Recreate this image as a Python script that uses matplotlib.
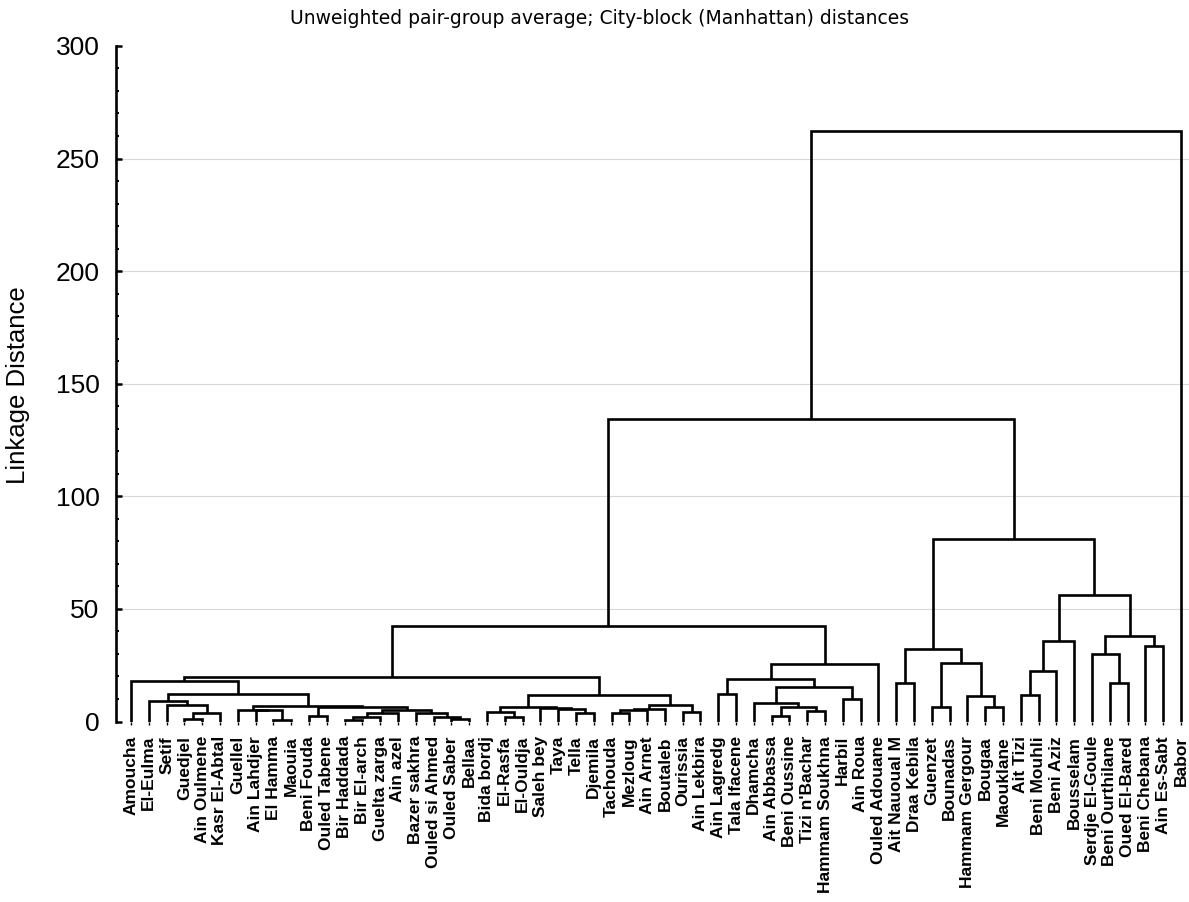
import matplotlib
matplotlib.use("Agg")
import matplotlib.pyplot as plt
from matplotlib.ticker import MultipleLocator

plt.rcParams['font.family'] = ['Liberation Sans', 'DejaVu Sans']

# ---- data -------------------------------------------------------------
leaf_labels = [
    "Amoucha", "El-Eulma", "Setif", "Guedjel", "Ain Oulmene", "Kasr El-Abtal",
    "Guellel", "Ain Lahdjer", "El Hamma", "Maouia", "Beni Fouda", "Ouled Tabene",
    "Bir Haddada", "Bir El-arch", "Guelta zarga", "Ain azel", "Bazer sakhra",
    "Ouled si Ahmed", "Ouled Saber", "Bellaa", "Bida bordj", "El-Rasfa",
    "El-Ouldja", "Saleh bey", "Taya", "Tella", "Djemila", "Tachouda", "Mezloug",
    "Ain Arnet", "Boutaleb", "Ourissia", "Ain Lekbira", "Ain Lagredg",
    "Tala Ifacene", "Dhamcha", "Ain Abbassa", "Beni Oussine", "Tizi n'Bachar",
    "Hammam Soukhna", "Harbil", "Ain Roua", "Ouled Adouane", "Ait Nauoual M",
    "Draa Kebila", "Guenzet", "Bounadas", "Hammam Gergour", "Bougaa",
    "Maouklane", "Ait Tizi", "Beni Mouhli", "Beni Aziz", "Bousselam",
    "Serdje El-Goule", "Beni Ourthilane", "Oued El-Bared", "Beni Chebana",
    "Ain Es-Sabt", "Babor",
]

# linkage: cluster k (k >= 60) is formed by merging merge_a[k-60] and merge_b[k-60]
merge_a = [3, 60, 2, 1, 8, 7, 6, 10, 12, 68, 69, 18, 17, 16, 70, 67, 66, 63, 0,
           21, 20, 25, 24, 23, 80, 27, 85, 86, 31, 87, 84, 78,
           33, 36, 38, 93, 35, 40, 96, 92, 99, 91,
           43, 45, 48, 47, 103, 102, 50, 108, 109, 55, 54, 57, 112, 110, 107,
           101, 117]
merge_b = [4, 5, 61, 62, 9, 64, 65, 11, 13, 14, 15, 19, 71, 72, 73, 74, 75, 76, 77,
           22, 79, 26, 81, 82, 83, 28, 29, 30, 32, 88, 89, 90,
           34, 37, 39, 94, 95, 41, 97, 98, 42, 100,
           44, 46, 49, 104, 105, 106, 51, 52, 53, 56, 111, 58, 113, 114, 115,
           116, 59]
merge_h = [1.0, 3.6, 7.3, 9.1, 0.7, 4.9, 5.1, 2.4, 0.7, 2.0, 3.6, 1.0, 2.1, 3.8,
           5.1, 6.4, 6.9, 12.2, 18.0,
           2.1, 4.4, 3.9, 5.6, 6.0, 6.6, 3.8, 5.1, 5.6, 4.1, 7.3, 11.8, 19.8,
           12.2, 2.6, 4.8, 6.4, 8.4, 10.0, 15.3, 18.9, 25.6, 42.4,
           17.2, 6.3, 6.3, 11.3, 25.9, 32.1, 11.8, 22.6, 35.9, 17.2, 30.0, 33.6,
           38.0, 56.2, 81.1, 134.4, 262.4]

title = "Unweighted pair-group average; City-block (Manhattan) distances"
y_label = "Linkage Distance"

# ---- figure -----------------------------------------------------------
fig = plt.figure(figsize=(11.89, 9.02), dpi=100)
ax = fig.add_axes([0.0976, 0.2001, 0.9024, 0.749])

n = len(leaf_labels)
pos = {i: float(i) for i in range(n)}
hgt = {i: 0.0 for i in range(n)}
for k, (a, b, h) in enumerate(zip(merge_a, merge_b, merge_h)):
    cid = n + k
    ax.plot([pos[a], pos[a], pos[b], pos[b]], [hgt[a], h, h, hgt[b]],
            color='black', lw=1.9, solid_joinstyle='miter', solid_capstyle='butt',
            zorder=3)
    pos[cid] = (pos[a] + pos[b]) / 2.0
    hgt[cid] = h

ax.set_xlim(-0.84, 59.45)
ax.set_ylim(0, 300)

ax.yaxis.set_major_locator(MultipleLocator(50))
ax.yaxis.set_minor_locator(MultipleLocator(10))
ax.grid(axis='y', which='major', color='#d8d8d8', lw=0.8, zorder=0)
for gl, v in zip(ax.yaxis.get_gridlines(), ax.get_yticks()):
    if v <= 0 or v >= 300:
        gl.set_visible(False)

ax.set_xticks(range(n))
ax.set_xticklabels(leaf_labels, rotation=90, fontsize=12.5, fontweight='bold')
ax.tick_params(axis='x', direction='out', length=2.5, width=1.0, pad=8)
ax.tick_params(axis='y', which='major', direction='in', length=4, width=1.8,
               labelsize=19, pad=12)
ax.tick_params(axis='y', which='minor', direction='in', length=2.5, width=1.5)

for s in ['top', 'right', 'bottom']:
    ax.spines[s].set_visible(False)
ax.spines['left'].set_linewidth(1.9)

ax.set_ylabel(y_label, fontsize=18.5)
ax.yaxis.set_label_coords(-0.080, 0.498)

fig.text(600 / 1189, 1 - 18 / 902, title, ha='center', va='center',
         fontsize=13.5, family=['DejaVu Sans'])

fig.savefig("out.png", dpi=100)
